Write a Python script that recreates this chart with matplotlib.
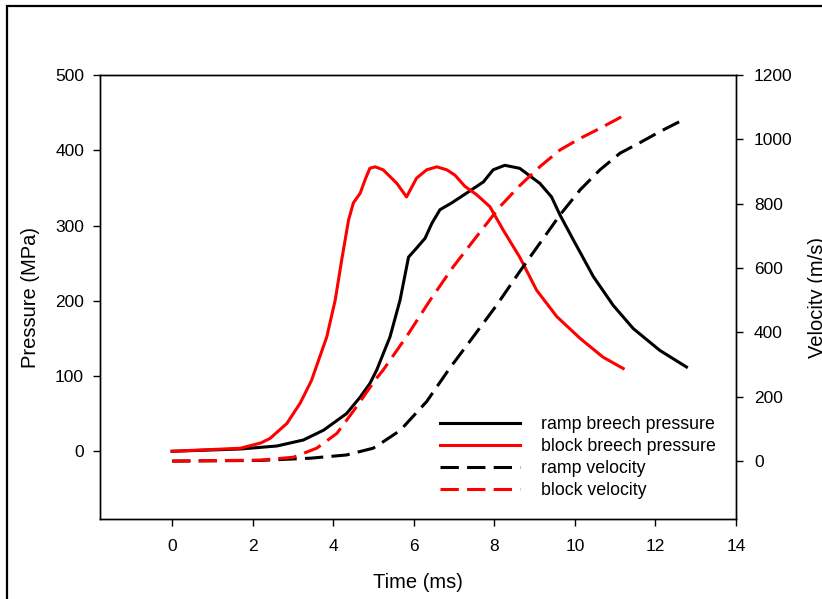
import matplotlib
matplotlib.use("Agg")
import matplotlib.pyplot as plt
from matplotlib.patches import Rectangle

plt.rcParams['font.family'] = ['Liberation Sans', 'DejaVu Sans']

# ---- data ----
ramp_p_t = [0, 1.69, 2.6, 3.26, 3.76, 4.33, 4.67, 4.91, 5.08, 5.41, 5.66, 5.87, 6.07, 6.28,
            6.45, 6.65, 6.94, 7.31, 7.73, 7.97, 8.26, 8.63, 9.13, 9.42, 9.63, 9.96, 10.46,
            10.95, 11.45, 12.11, 12.77]
ramp_p = [0, 3, 7, 15, 28, 50, 72, 90, 108, 152, 201, 258, 270, 283,
          303, 321, 330, 343, 358, 374, 380, 376, 356, 338, 314, 281, 232,
          194, 163, 134, 112]

block_p_t = [0, 1.69, 2.2, 2.43, 2.85, 3.18, 3.46, 3.84, 4.05, 4.21, 4.38, 4.5, 4.67, 4.8,
             4.91, 5.04, 5.24, 5.58, 5.82, 6.07, 6.32, 6.57, 6.82, 7.02, 7.27, 7.56, 7.89,
             8.22, 8.63, 9.05, 9.55, 10.13, 10.7, 11.2]
block_p = [0, 4, 11, 17, 37, 64, 94, 152, 201, 254, 307, 330, 343, 362,
           376, 378, 374, 356, 338, 363, 374, 378, 374, 367, 352, 341, 325,
           294, 258, 214, 179, 150, 125, 110]

ramp_v_t = [0, 2.18, 3.43, 4.33, 4.99, 5.24, 5.66, 6.32, 6.9, 7.48, 8.06, 8.63, 9.13, 9.63,
            10.13, 10.62, 11.12, 11.62, 12.11, 12.77]
ramp_v = [0, 2, 9, 19, 40, 60, 95, 185, 290, 387, 485, 589, 677, 765,
          843, 905, 957, 990, 1024, 1066]

block_v_t = [0, 2.18, 3.01, 3.59, 4.09, 4.58, 5.04, 5.24, 5.82, 6.41, 6.98, 7.56, 8.14, 8.63,
             9.13, 9.63, 10.13, 10.62, 11.2]
block_v = [0, 3, 12, 40, 86, 169, 252, 283, 387, 501, 604, 698, 791, 856,
           915, 967, 1003, 1034, 1073]

labels = ["ramp breech pressure", "block breech pressure", "ramp velocity", "block velocity"]
x_ticks = [0, 2, 4, 6, 8, 10, 12, 14]
p_ticks = [0, 100, 200, 300, 400, 500]
v_ticks = [0, 200, 400, 600, 800, 1000, 1200]

# ---- figure ----
fig = plt.figure(figsize=(8.22, 5.99), dpi=100)
W, H = 822, 599
ax = fig.add_axes([100 / W, 1 - 519 / H, 636 / W, 444 / H])
ax2 = ax.twinx()

lw = 2.2
dash = (6.0, 2.7)
l1, = ax.plot(ramp_p_t, ramp_p, color='black', lw=lw)
l2, = ax.plot(block_p_t, block_p, color='#ff0000', lw=lw)
l3, = ax2.plot(ramp_v_t, ramp_v, color='black', lw=lw, dashes=dash)
l4, = ax2.plot(block_v_t, block_v, color='#ff0000', lw=lw, dashes=dash)

ax.set_xlim(-1.79, 14)
ax.set_ylim(-90, 500)
ax2.set_ylim(-180, 1200)
ax.set_xticks(x_ticks)
ax.set_yticks(p_ticks)
ax2.set_yticks(v_ticks)

fs_tick = 12.5
for a in (ax, ax2):
    a.tick_params(direction='out', length=5, width=1, labelsize=fs_tick)
    for s in a.spines.values():
        s.set_linewidth(1)
ax.tick_params(axis='x', pad=9.5)
ax.tick_params(axis='y', pad=6.5)
ax2.tick_params(axis='y', pad=8)

ax.set_xlabel("Time (ms)", fontsize=14.5)
ax.set_ylabel("Pressure (MPa)", fontsize=14.5)
ax2.set_ylabel("Velocity (m/s)", fontsize=14.5)
ax.xaxis.set_label_coords(0.5, -0.122)
ax.yaxis.set_label_coords(-0.094, 0.5)
ax2.yaxis.set_label_coords(1.113, 0.5)

leg = ax.legend([l1, l2, l3, l4], labels, loc='upper left',
                bbox_to_anchor=(0.5346, 0.231), frameon=False, fontsize=12.8,
                handlelength=4.5, handletextpad=1.18, labelspacing=0.27,
                borderpad=0, borderaxespad=0)

# figure border
fig.patches.append(Rectangle((7 / W, -0.5), 2, 0.5 + 1 - 6 / H, transform=fig.transFigure,
                             fill=False, edgecolor='black', lw=1.6))

fig.savefig("out.png", dpi=100)
